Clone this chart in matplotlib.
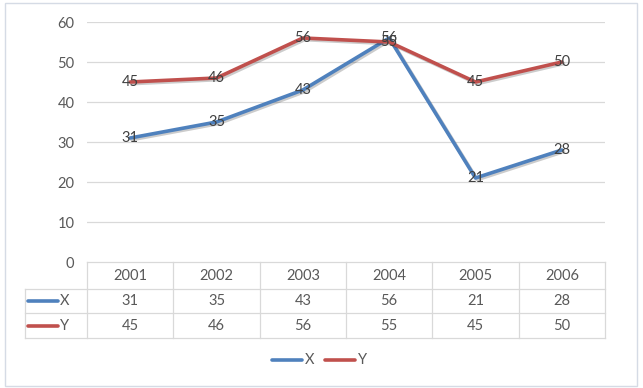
import matplotlib
matplotlib.use("Agg")
import matplotlib.pyplot as plt
import matplotlib.patheffects as pe
from matplotlib.transforms import blended_transform_factory
from matplotlib.patches import Rectangle

years = ["2001", "2002", "2003", "2004", "2005", "2006"]
x_vals = [31, 35, 43, 56, 21, 28]
y_vals = [45, 46, 56, 55, 45, 50]
series = [("X", x_vals, "#4f81bd"), ("Y", y_vals, "#c0504d")]

plt.rcParams['font.family'] = ['Lato', 'DejaVu Sans']
txt = "#595959"
grid = "#d9d9d9"

W, H = 643, 388
fig = plt.figure(figsize=(W / 100, H / 100), dpi=100)
fig.patches.append(Rectangle((5 / W, 2 / H), 632 / W, 383 / H, transform=fig.transFigure,
                             fill=False, edgecolor="#d5dbe5", linewidth=1))

ax = fig.add_axes([87 / W, 1 - 262 / H, 518 / W, 240 / H])
ax.set_xlim(-0.5, len(years) - 0.5)
ax.set_ylim(0, 60)
ax.set_yticks(range(0, 61, 10))
ax.set_xticks([])
for s in ax.spines.values():
    s.set_visible(False)
ax.tick_params(axis="y", length=0, labelsize=10.5, labelcolor=txt, pad=9)
for v in range(10, 61, 10):
    ax.axhline(v, color=grid, lw=0.9, zorder=0)

shadow = [pe.SimpleLineShadow(offset=(1.2, -1.2), alpha=0.2), pe.Normal()]
idx = range(len(years))
for name, vals, col in series:
    ax.plot(idx, vals, color=col, lw=2.6, solid_capstyle="round",
            path_effects=shadow, zorder=3)
    for i, v in zip(idx, vals):
        ax.text(i, v, str(v), ha="center", va="center", fontsize=10.5,
                color="#404040", zorder=4)

# data table below the plot
tr = blended_transform_factory(ax.transData, ax.transAxes)
rows_y = [0, -0.1125, -0.2125, -0.317]
left_lab = -0.5 - 62 / 86.33
kw = dict(color=grid, lw=0.9, clip_on=False, transform=tr)
ax.plot([-0.5, 5.5], [rows_y[0]] * 2, **kw)
for ry in rows_y[1:]:
    ax.plot([left_lab, 5.5], [ry] * 2, **kw)
for i in range(len(years) + 1):
    ax.plot([i - 0.5] * 2, [rows_y[0], rows_y[-1]], **kw)
ax.plot([left_lab] * 2, [rows_y[1], rows_y[-1]], **kw)

for i, yr in enumerate(years):
    ax.text(i, (rows_y[0] + rows_y[1]) / 2, yr, transform=tr, ha="center",
            va="center", fontsize=10.5, color=txt)
for r, (name, vals, col) in enumerate(series):
    cy = (rows_y[r + 1] + rows_y[r + 2]) / 2
    for i, v in enumerate(vals):
        ax.text(i, cy, str(v), transform=tr, ha="center", va="center",
                fontsize=10.5, color=txt)
    ax.plot([left_lab + 0.04, left_lab + 0.38], [cy, cy], color=col, lw=2.6,
            clip_on=False, transform=tr, solid_capstyle="round")
    ax.text(left_lab + 0.4, cy, name, transform=tr, ha="left", va="center",
            fontsize=10.5, color=txt)

# legend
ly = 1 - 360 / H
for (name, vals, col), x0 in zip(series, [272, 325]):
    fig.add_artist(plt.Line2D([x0 / W, (x0 + 30) / W], [ly, ly], color=col, lw=2.6,
                              solid_capstyle="round", transform=fig.transFigure))
    fig.text((x0 + 33) / W, ly, name, ha="left", va="center", fontsize=10.5, color=txt)

fig.savefig("out.png", dpi=100)
